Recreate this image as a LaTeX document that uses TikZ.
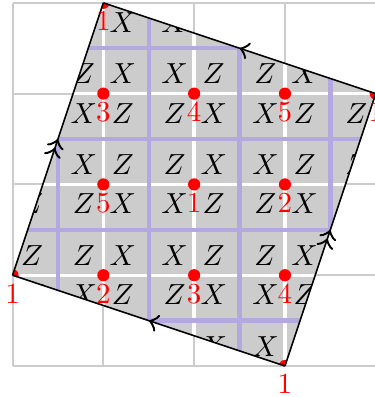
\documentclass[tikz,border=0pt]{standalone}
\usetikzlibrary{calc,decorations.markings}
\definecolor{cplaq}{HTML}{CCCCCC}
\definecolor{cwall}{HTML}{B4A8E0}
\tikzset{
  every picture/.style={>=to, x=1.1cm, y=1.1cm},
  gridline/.style={gray!40, line width=0.7pt, step=1.1cm},
  cutline/.style={white, line width=1.15pt, step=1.1cm},
  wall/.style={cwall, line width=1.5pt},
  siteidx/.style={red, inner sep=0pt, below=2.75pt},
  oneedge/.style={line width=0.55pt, postaction={decorate},
    decoration={markings, mark=at position 0.5 with {\arrow[scale=1.5]{>}}}},
  twoedge/.style={line width=0.55pt, postaction={decorate},
    decoration={markings, mark=at position 0.5 with {\arrow[scale=1.5]{>>}}}},
}
\def\off{0.215}
\newcommand{\bbox}{\path[use as bounding box] (-0.138,-0.341) rectangle (3.981,4.031);}

\begin{document}
\begin{tikzpicture}
  \bbox
  \draw[gridline] (0,0) grid (4,4);
  \begin{scope}
    \clip (0,1) -- (1,4) -- (4,3) -- (3,0) -- cycle;
    \fill[cplaq] (0,0) rectangle (4,4);
    \draw[cutline] (0,0) grid (4,4);
    \foreach \k in {0.5,1.5,2.5,3.5} {
      \draw[wall] (\k,0) -- (\k,4);
      \draw[wall] (0,\k) -- (4,\k);
    }
    % letters round each site
    \foreach \i in {0,...,4} {
      \foreach \j in {0,...,4} {
        \pgfmathparse{int(mod(\i+\j,2))}
        \ifnum\pgfmathresult=0
          \def\pa{Z}\def\pb{X}
        \else
          \def\pa{X}\def\pb{Z}
        \fi
        \node (ul\i\j) at (\i-\off,\j+\off) {$\pa$};
        \node (ur\i\j) at (\i+\off,\j+\off) {$\pb$};
        \node (ll\i\j) at (\i-\off,\j-\off) {$\pb$};
        \node (lr\i\j) at (\i+\off,\j-\off) {$\pa$};
      }
    }
    \foreach \i/\j in {1/4,0/1,3/0,4/3,1/3,2/3,3/3,1/2,2/2,3/2,1/1,2/1,3/1}
      \fill[red] (\i,\j) circle (2.1pt);
  \end{scope}
  \draw[oneedge] (4,3) -- (1,4);
  \draw[oneedge] (3,0) -- (0,1);
  \draw[twoedge] (0,1) -- (1,4);
  \draw[twoedge] (3,0) -- (4,3);
  \foreach \i/\j/\n in {1/4/1,0/1/1,3/0/1,4/3/1,1/3/3,2/3/4,3/3/5,1/2/5,2/2/1,3/2/2,1/1/2,2/1/3,3/1/4}
    \node[siteidx] (idx\i\j) at (\i,\j) {\n};
\end{tikzpicture}
\end{document}
